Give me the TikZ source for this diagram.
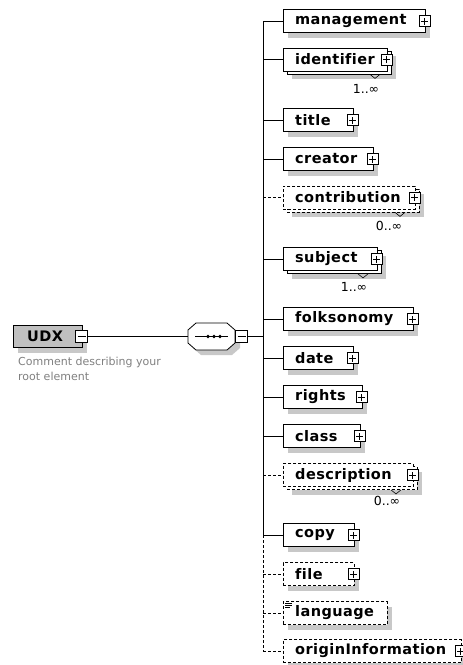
\documentclass[tikz,border=0pt]{standalone}
\usepackage{fontspec}
\setmainfont{DejaVu Sans}
\newfontfamily\elfont[LetterSpace=3,Ligatures=NoCommon]{DejaVu Sans}
\usetikzlibrary{shadows}
\definecolor{shadegray}{RGB}{200,200,200}
\definecolor{rootgray}{RGB}{192,192,192}
\definecolor{cmtgray}{RGB}{128,128,128}
\tikzset{
  wire/.style={line width=0.8pt, draw=black},
  dwire/.style={wire, dash pattern=on 3pt off 2pt},
  shad/.style={drop shadow={shadow xshift=5pt, shadow yshift=-5pt, fill=shadegray, draw=none, opacity=1}},
  ebox/.style={wire, fill=white, minimum height=23pt, inner sep=0pt, anchor=west},
  dbox/.style={ebox, dash pattern=on 3pt off 2pt},
  etext/.style={font=\elfont\bfseries\fontsize{14.5}{16}\selectfont, inner sep=0pt, anchor=west},
  card/.style={font=\fontsize{12.5}{13}\selectfont, inner sep=0pt},
  cmt/.style={font=\fontsize{11}{12}\selectfont, text=cmtgray, inner sep=0pt, anchor=west},
  pbox/.style={draw, line width=0.7pt, fill=white, minimum size=11pt, inner sep=0pt,
     path picture={\draw[line width=0.7pt] ([xshift=-3.5pt]path picture bounding box.center) -- ([xshift=3.5pt]path picture bounding box.center);
                   \draw[line width=0.7pt] ([yshift=-3.5pt]path picture bounding box.center) -- ([yshift=3.5pt]path picture bounding box.center);}},
  mbox/.style={draw, line width=0.7pt, fill=white, minimum size=12pt, inner sep=0pt,
     path picture={\draw[line width=0.7pt] ([xshift=-4pt]path picture bounding box.center) -- ([xshift=4pt]path picture bounding box.center);}},
}
\newcommand\xel[5]{%
  \node[#5, shad, minimum width={#3-283}] (#1) at (283,#4) {};
  \node[etext] (#1-t) at (295,#4) {#2};
  \coordinate (j-#1) at (263,#4);
}
\newcommand\xmul[5]{%
  \node[#5, shad, minimum width={#3-283}] (#1-b) at (287,#4+3) {};
  \node[#5, minimum width={#3-283}] (#1) at (283,#4) {};
  \node[etext] (#1-t) at (295,#4) {#2};
  \coordinate (j-#1) at (263,#4);
}
\newcommand\xplus[1]{\node[pbox] (#1-p) at ([xshift=-1pt]#1.east) {};}
\newcommand\xnotch[2]{%
  \coordinate (#1-nx) at (#2-5,0);
  \draw[line width=0.6pt] (#1-nx |- #1-b.south) -- ++(5,4) -- ++(5,-4);
}
\begin{document}
\begin{tikzpicture}[x=1pt,y=-1pt]
\useasboundingbox (0,0) rectangle (463,665);

% root element
\node[wire, fill=rootgray, shad, minimum width=69pt, minimum height=22pt, inner sep=0pt, anchor=west] (udx) at (13,336.5) {};
\node[etext] (udx-t) at (27,336.5) {UDX};
\node[mbox] (udx-m) at (81.5,336.5) {};
\node[cmt] (cmt1) at (18,362) {Comment describing your};
\node[cmt] (cmt2) at (18,376) {root element};

% sequence compositor
\node[inner sep=0pt, minimum width=47pt, minimum height=27pt] (seq) at (211.5,336.5) {};
\fill[shadegray, shift={(5,5)}] (188,330) -- (196,323) -- (227,323) -- (235,330) -- (235,343) -- (227,350) -- (196,350) -- (188,343) -- cycle;
\filldraw[wire, fill=white] (188,330) -- (196,323) -- (227,323) -- (235,330) -- (235,343) -- (227,350) -- (196,350) -- (188,343) -- cycle;
\draw[wire] (195,336.5) -- (228,336.5);
\fill (208,336.5) circle (1.8) (214,336.5) circle (1.8) (220,336.5) circle (1.8);
\node[mbox] (seq-m) at (241.5,336.5) {};
\coordinate (j-seq) at (263,336.5);
\draw[wire] (udx-m.east) -- (seq.west);
\draw[wire] (seq-m.east) -- (j-seq);

% children
\xel{management}{management}{425}{21}{ebox}
\xmul{identifier}{identifier}{387}{59.5}{ebox}
\xel{title}{title}{353}{120}{ebox}
\xel{creator}{creator}{373}{159}{ebox}
\xmul{contribution}{contribution}{415}{197.5}{dbox}
\xmul{subject}{subject}{377}{259}{ebox}
\xel{folksonomy}{folksonomy}{413}{319}{ebox}
\xel{date}{date}{353}{358}{ebox}
\xel{rights}{rights}{362}{397}{ebox}
\xel{class}{class}{360}{436}{ebox}
\xmul{description}{description}{413}{475}{dbox}
\xel{copy}{copy}{354}{535}{ebox}
\xel{file}{file}{354}{574}{dbox}
\xel{language}{language}{387}{613}{dbox}
\xel{origin}{originInformation}{461}{651}{dbox}

\foreach \n in {management,identifier,title,creator,contribution,subject,folksonomy,date,rights,class,description,copy,file,origin}{\xplus{\n}}

% language simple-type icon
\draw[line width=0.6pt] (285,603.5) -- (292,603.5) (285,605.5) -- (292,605.5) (285,607.5) -- (290,607.5);

% occurrence notches and labels
\xnotch{identifier}{375}
\xnotch{contribution}{400}
\xnotch{subject}{363}
\xnotch{description}{396}
\node[card] (identifier-c) at (366,89) {1..∞};
\node[card] (contribution-c) at (389,226) {0..∞};
\node[card] (subject-c) at (354,287) {1..∞};
\node[card] (description-c) at (387,501) {0..∞};

% spine and branches
\draw[wire] (j-management) -- (j-copy);
\draw[dwire] (j-copy) -- (j-origin);
\foreach \n in {management,identifier,title,creator,subject,folksonomy,date,rights,class,copy}{\draw[wire] (j-\n) -- (\n.west);}
\foreach \n in {contribution,description,file,language,origin}{\draw[dwire] (j-\n) -- (\n.west);}
\end{tikzpicture}
\end{document}
